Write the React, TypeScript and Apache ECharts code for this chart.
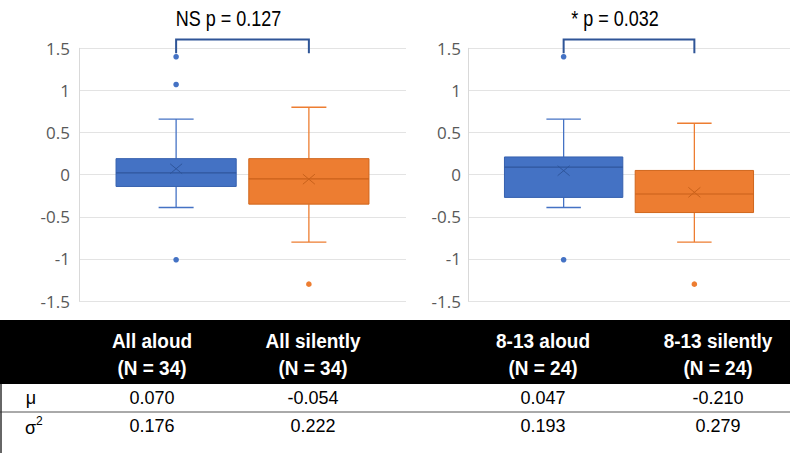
import { useEffect, useRef } from 'react';
import * as echarts from 'echarts';

// ---- data ----
const GROUP_LABELS = ['All aloud', 'All silently', '8-13 aloud', '8-13 silently'];
const GROUP_N = [34, 34, 24, 24];
// [min whisker, Q1, median, Q3, max whisker]
const STATS_ALL_ALOUD = [-0.39, -0.14, 0.02, 0.19, 0.66];
const STATS_ALL_SILENTLY = [-0.8, -0.35, -0.05, 0.19, 0.8];
const STATS_813_ALOUD = [-0.39, -0.27, 0.09, 0.21, 0.66];
const STATS_813_SILENTLY = [-0.8, -0.45, -0.23, 0.05, 0.61];
const OUTLIERS_ALL_ALOUD = [1.4, 1.07, -1.01];
const OUTLIERS_ALL_SILENTLY = [-1.3];
const OUTLIERS_813_ALOUD = [1.4, -1.01];
const OUTLIERS_813_SILENTLY = [-1.3];
const MEANS = [0.07, -0.054, 0.047, -0.21];
const VARIANCES = [0.176, 0.222, 0.193, 0.279];
const P_LABELS = ['NS p = 0.127', '* p = 0.032'];
const Y_MIN = -1.5;
const Y_MAX = 1.5;
const Y_STEP = 0.5;

// ---- style ----
const FILL = ['#4472C4', '#ED7D31'];
const EDGE = ['#3560AE', '#D0661C'];
const MEDIAN = ['#2F569C', '#C9611A'];
const BRACKET = '#2F5597';
const BOX_HALF = 0.3675;
const SHIFT = 0.094;
const CAP_HALF = 0.107;
const BRACKET_TOP = 1.605;
const BRACKET_LEG = 1.44;
const SANS = '"Liberation Sans", Arial, sans-serif';

const centerX = (api: any, c: number) => {
  const band = api.size([1, 0])[0];
  return api.coord([c, 0])[0] + (c === 0 ? 1 : -1) * SHIFT * band;
};

const makeBoxRender = (pLabel: string) => (params: any, api: any) => {
  const cat = api.value(0);
  const band = api.size([1, 0])[0];
  const x = centerX(api, cat);
  const y = (v: number) => api.coord([cat, v])[1];
  const mn = api.value(1), q1 = api.value(2), md = api.value(3), q3 = api.value(4), mx = api.value(5), mean = api.value(6);
  const hw = BOX_HALF * band;
  const cw = CAP_HALF * band;
  const wStyle = { stroke: FILL[cat], lineWidth: 1.3 };
  const children: any[] = [
    { type: 'line', shape: { x1: x, y1: y(q3), x2: x, y2: y(mx) }, style: wStyle },
    { type: 'line', shape: { x1: x - cw, y1: y(mx), x2: x + cw, y2: y(mx) }, style: wStyle },
    { type: 'line', shape: { x1: x, y1: y(q1), x2: x, y2: y(mn) }, style: wStyle },
    { type: 'line', shape: { x1: x - cw, y1: y(mn), x2: x + cw, y2: y(mn) }, style: wStyle },
    {
      type: 'rect',
      shape: { x: x - hw, y: y(q3), width: 2 * hw, height: y(q1) - y(q3) },
      style: { fill: FILL[cat], stroke: EDGE[cat], lineWidth: 1 },
    },
    { type: 'line', shape: { x1: x - hw, y1: y(md), x2: x + hw, y2: y(md) }, style: { stroke: MEDIAN[cat], lineWidth: 1.2 } },
    { type: 'line', shape: { x1: x - 6, y1: y(mean) - 5, x2: x + 6, y2: y(mean) + 5 }, style: { stroke: MEDIAN[cat], lineWidth: 1 } },
    { type: 'line', shape: { x1: x - 6, y1: y(mean) + 5, x2: x + 6, y2: y(mean) - 5 }, style: { stroke: MEDIAN[cat], lineWidth: 1 } },
  ];
  if (params.dataIndex === 0) {
    const x0 = centerX(api, 0);
    const x1 = centerX(api, 1);
    const yt = y(BRACKET_TOP);
    const yl = y(BRACKET_LEG);
    children.push({
      type: 'polyline',
      shape: { points: [[x0, yl], [x0, yt], [x1, yt], [x1, yl]] },
      style: { stroke: BRACKET, lineWidth: 2, fill: null },
    });
    children.push({
      type: 'text',
      x: (x0 + x1) / 2 - 14,
      y: yt - 21,
      scaleY: 1.2,
      style: {
        text: pLabel,
        fill: '#000',
        fontSize: 18,
        fontFamily: SANS,
        align: 'center',
        verticalAlign: 'middle',
      },
    });
  }
  return { type: 'group', children };
};

const outlierRender = (params: any, api: any) => {
  const cat = api.value(0);
  const p = api.coord([cat, api.value(1)]);
  return {
    type: 'circle',
    shape: { cx: centerX(api, cat), cy: p[1], r: 2.8 },
    style: { fill: FILL[cat] },
  };
};

const buildTable = () => {
  const els: any[] = [];
  els.push({ type: 'rect', shape: { x: 0, y: 320, width: 790, height: 64 }, style: { fill: '#000' } });
  els.push({ type: 'line', shape: { x1: 0, y1: 412, x2: 790, y2: 412 }, style: { stroke: '#555', lineWidth: 1 } });
  els.push({ type: 'line', shape: { x1: 1, y1: 384, x2: 1, y2: 453 }, style: { stroke: '#333', lineWidth: 1.5 } });
  const colX = [152, 313, 543, 718];
  GROUP_LABELS.forEach((g, i) => {
    els.push({
      type: 'text',
      x: colX[i],
      y: 354,
      scaleY: 1.1,
      style: {
        text: `${g}\n(N = ${GROUP_N[i]})`,
        fill: '#fff',
        font: `bold 19px ${SANS}`,
        lineHeight: 24,
        align: 'center',
        verticalAlign: 'middle',
      },
    });
    els.push({
      type: 'text', x: colX[i], y: 398,
      style: { text: MEANS[i].toFixed(3), fill: '#000', font: `18px ${SANS}`, align: 'center', verticalAlign: 'middle' },
    });
    els.push({
      type: 'text', x: colX[i], y: 426,
      style: { text: VARIANCES[i].toFixed(3), fill: '#000', font: `18px ${SANS}`, align: 'center', verticalAlign: 'middle' },
    });
  });
  els.push({
    type: 'text', x: 31, y: 398,
    style: { text: 'μ', fill: '#000', font: `18px ${SANS}`, align: 'center', verticalAlign: 'middle' },
  });
  els.push({
    type: 'text', x: 25, y: 426,
    style: {
      text: '{a|σ}{b|2}',
      fill: '#000',
      align: 'left',
      verticalAlign: 'middle',
      rich: {
        a: { fontSize: 18, fontFamily: SANS, lineHeight: 22, verticalAlign: 'bottom' },
        b: { fontSize: 12, fontFamily: SANS, lineHeight: 22, verticalAlign: 'top' },
      },
    },
  });
  return els;
};

export default function App() {
  const ref = useRef<HTMLDivElement>(null);
  useEffect(() => {
    if (!ref.current) return;
    const chart = echarts.init(ref.current, undefined, { renderer: 'svg' });
    const yAxisBase = (gridIndex: number, margin: number) => ({
      type: 'value',
      gridIndex,
      min: Y_MIN,
      max: Y_MAX,
      interval: Y_STEP,
      axisLine: { show: true, lineStyle: { color: '#D9D9D9', width: 1 } },
      axisTick: { show: false },
      splitLine: { show: true, lineStyle: { color: '#E3E3E3', width: 1 } },
      axisLabel: { color: '#595959', fontSize: 17, fontFamily: '"Open Sans", sans-serif', margin },
    });
    const xAxisBase = (gridIndex: number, data: string[]) => ({
      type: 'category',
      gridIndex,
      data,
      axisLine: { show: false },
      axisTick: { show: false },
      axisLabel: { show: false },
      splitLine: { show: false },
    });
    chart.setOption({
      animation: false,
      backgroundColor: '#fff',
      grid: [
        { left: 79, top: 48.3, width: 327, height: 252.7 },
        { left: 468, top: 48.3, width: 322, height: 252.7 },
      ],
      xAxis: [xAxisBase(0, GROUP_LABELS.slice(0, 2)), xAxisBase(1, GROUP_LABELS.slice(2, 4))],
      yAxis: [yAxisBase(0, 9), yAxisBase(1, 7)],
      series: [
        {
          type: 'custom',
          name: 'All',
          xAxisIndex: 0,
          yAxisIndex: 0,
          renderItem: makeBoxRender(P_LABELS[0]),
          encode: { x: 0, y: [1, 2, 3, 4, 5] },
          data: [
            [0, ...STATS_ALL_ALOUD, MEANS[0]],
            [1, ...STATS_ALL_SILENTLY, MEANS[1]],
          ],
        },
        {
          type: 'custom',
          name: '8-13',
          xAxisIndex: 1,
          yAxisIndex: 1,
          renderItem: makeBoxRender(P_LABELS[1]),
          encode: { x: 0, y: [1, 2, 3, 4, 5] },
          data: [
            [0, ...STATS_813_ALOUD, MEANS[2]],
            [1, ...STATS_813_SILENTLY, MEANS[3]],
          ],
        },
        {
          type: 'custom',
          name: 'All outliers',
          xAxisIndex: 0,
          yAxisIndex: 0,
          renderItem: outlierRender,
          encode: { x: 0, y: 1 },
          data: [...OUTLIERS_ALL_ALOUD.map((v) => [0, v]), ...OUTLIERS_ALL_SILENTLY.map((v) => [1, v])],
        },
        {
          type: 'custom',
          name: '8-13 outliers',
          xAxisIndex: 1,
          yAxisIndex: 1,
          renderItem: outlierRender,
          encode: { x: 0, y: 1 },
          data: [...OUTLIERS_813_ALOUD.map((v) => [0, v]), ...OUTLIERS_813_SILENTLY.map((v) => [1, v])],
        },
      ],
      graphic: buildTable(),
    });
    return () => chart.dispose();
  }, []);
  return <div ref={ref} style={{ position: 'absolute', left: 0, top: 0, width: 790, height: 453 }} />;
}
